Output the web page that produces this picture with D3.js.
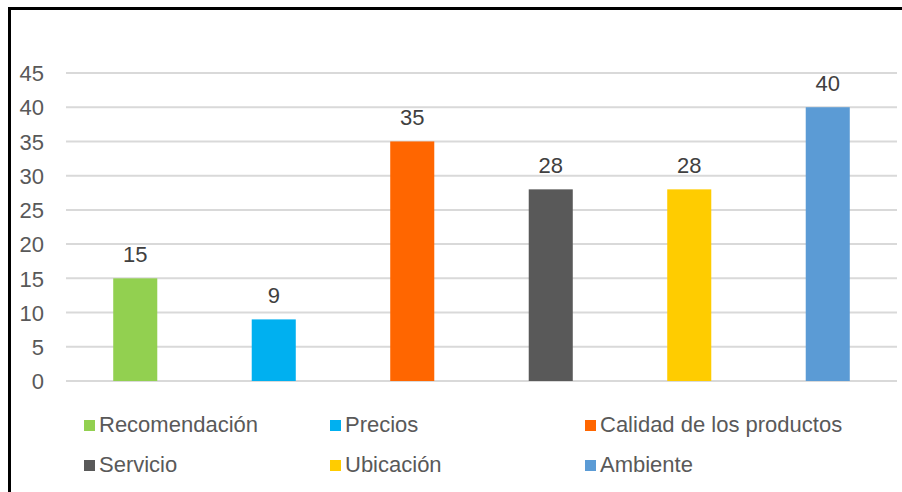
<!DOCTYPE html>
<html><head><meta charset="utf-8">
<script src="https://cdn.jsdelivr.net/npm/d3@7"></script>
<style>body{margin:0;background:#fff}svg{display:block}</style>
</head><body>
<script>
const categories = ["Recomendación","Precios","Calidad de los productos","Servicio","Ubicación","Ambiente"];
const values = [15, 9, 35, 28, 28, 40];
const colors = ["#92D050","#00B0F0","#FF6600","#595959","#FFCC00","#5B9BD5"];
const yTicks = [0,5,10,15,20,25,30,35,40,45];

const W = 902, H = 492;
const svg = d3.select("body").append("svg").attr("width", W).attr("height", H);
svg.append("rect").attr("width", W).attr("height", H).attr("fill", "#fff");
// border
svg.append("path").attr("d", `M9.5,${H+5} V8.5 H${W+5}`).attr("fill","none").attr("stroke","#000").attr("stroke-width",3);

const x = d3.scaleBand().domain(categories).range([66, 897]).paddingInner(0.682).paddingOuter(0.341);
const y = d3.scaleLinear().domain([0,45]).range([381, 73]);
const font = "Arial, 'Liberation Sans', sans-serif";

// gridlines
svg.append("g").selectAll("line").data(yTicks).join("line")
  .attr("x1", 66).attr("x2", 897)
  .attr("y1", d => y(d)).attr("y2", d => y(d))
  .attr("stroke", "#d9d9d9").attr("stroke-width", 2);

// y axis labels
const ax = svg.append("g").attr("transform","translate(44,0)")
  .call(d3.axisLeft(y).tickValues(yTicks).tickSize(0).tickPadding(0));
ax.select(".domain").remove();
ax.selectAll("text").attr("font-family", font).attr("font-size", 22).attr("fill","#595959").attr("dy","0.35em");

// bars
svg.append("g").selectAll("rect").data(values).join("rect")
  .attr("x", (d,i) => x(categories[i])).attr("width", x.bandwidth())
  .attr("y", d => y(d)).attr("height", d => y(0) - y(d))
  .attr("fill", (d,i) => colors[i]);

// labels
svg.append("g").selectAll("text").data(values).join("text")
  .attr("x", (d,i) => x(categories[i]) + x.bandwidth()/2)
  .attr("y", d => y(d) - 16.5)
  .attr("text-anchor","middle").attr("font-family", font).attr("font-size", 22)
  .attr("fill","#404040").text(d => d);

// legend
const colX = [84, 330, 585];
const rowY = [432, 472];
const lg = svg.append("g").selectAll("g").data(categories).join("g")
  .attr("transform", (d,i) => `translate(${colX[i%3]},${rowY[Math.floor(i/3)]})`);
lg.append("rect").attr("x",0).attr("y",-12).attr("width",11).attr("height",11).attr("fill",(d,i)=>colors[i]);
lg.append("text").attr("x",15).attr("y",0).attr("font-family",font).attr("font-size",22)
  .attr("fill","#595959").text(d=>d);
</script>
</body></html>
